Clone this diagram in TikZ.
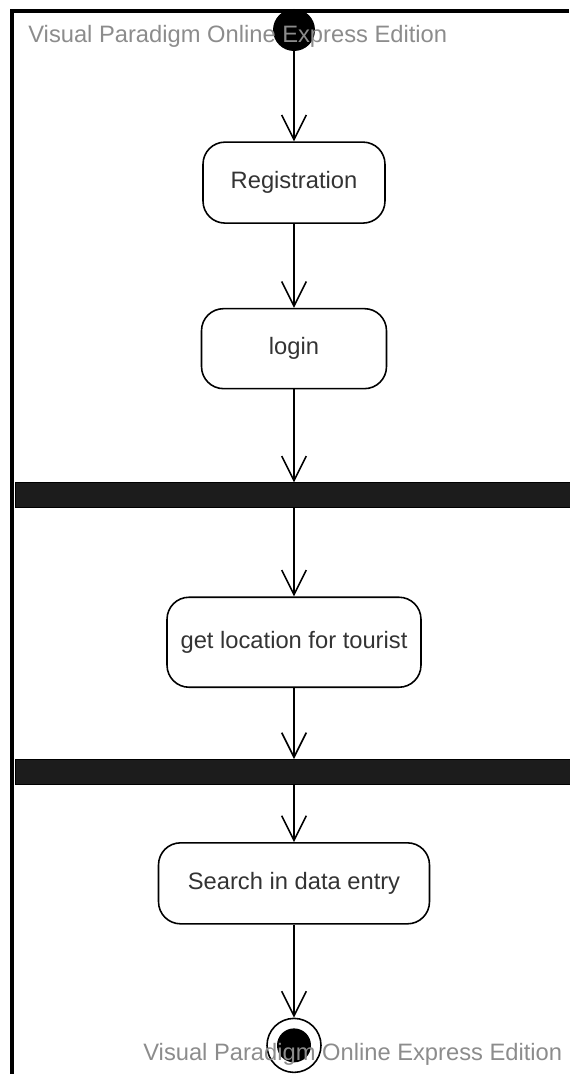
\documentclass[tikz,border=0pt]{standalone}
\usepackage{fontspec}
\setmainfont{Liberation Sans}
\usetikzlibrary{arrows.meta,positioning}
\def \px {0.02cm}

\begin{document}
\begin{tikzpicture}[x=\px,y=-\px,node distance=1.8cm,
    initialstate/.style={circle,fill=black,minimum size=0.84cm,inner sep=0pt},
    finalstate/.style={circle,draw,line width=0.9pt,minimum size=1.08cm,inner sep=0pt,
      path picture={\fill (path picture bounding box.center) circle (0.34cm);}},
    act/.style={draw,rounded corners=0.44cm,line width=0.9pt,text=black!80,
      font=\fontsize{13.5}{16}\selectfont},
    syncbar/.style={draw=black,fill=black!89,line width=0.6pt,minimum width=11.14cm,
      minimum height=0.5cm,inner sep=0pt},
    flow/.style={line width=0.9pt,-{Straight Barb[length=14pt,width=14pt]}},
    watermark/.style={text=black!45,font=\fontsize{13.5}{16}\selectfont,anchor=west,inner sep=0pt}]
    \useasboundingbox (0,0) rectangle (569,1074);
    \draw[line width=2.2pt] (12,1074) -- (12,11) -- (569,11);
    \node[initialstate] (start) at (294,30) {};
    \node[act,minimum width=3.64cm,minimum height=1.62cm,below=1.8cm of start] (reg) {Registration};
    \node[act,minimum width=3.7cm,minimum height=1.6cm,below=1.68cm of reg] (login) {login};
    \node[syncbar,below=1.86cm of login] (bar1) {};
    \node[act,minimum width=5.08cm,minimum height=1.8cm,below=1.76cm of bar1] (getloc) {get location for tourist};
    \node[syncbar,below=1.42cm of getloc] (bar2) {};
    \node[act,minimum width=5.42cm,minimum height=1.62cm,below=1.14cm of bar2] (search) {Search in data entry};
    \node[finalstate,below=1.86cm of search] (end) {};
    \draw[flow] (start) -- (reg);
    \draw[flow] (reg) -- (login);
    \draw[flow] (login) -- (bar1);
    \draw[flow] (bar1) -- (getloc);
    \draw[flow] (getloc) -- (bar2);
    \draw[flow] (bar2) -- (search);
    \draw[flow] (search) -- (end);
    \node[watermark] (wmtop) at (28,36) {Visual Paradigm Online Express Edition};
    \node[watermark] (wmbottom) at (143,1054) {Visual Paradigm Online Express Edition};
\end{tikzpicture}
\end{document}
